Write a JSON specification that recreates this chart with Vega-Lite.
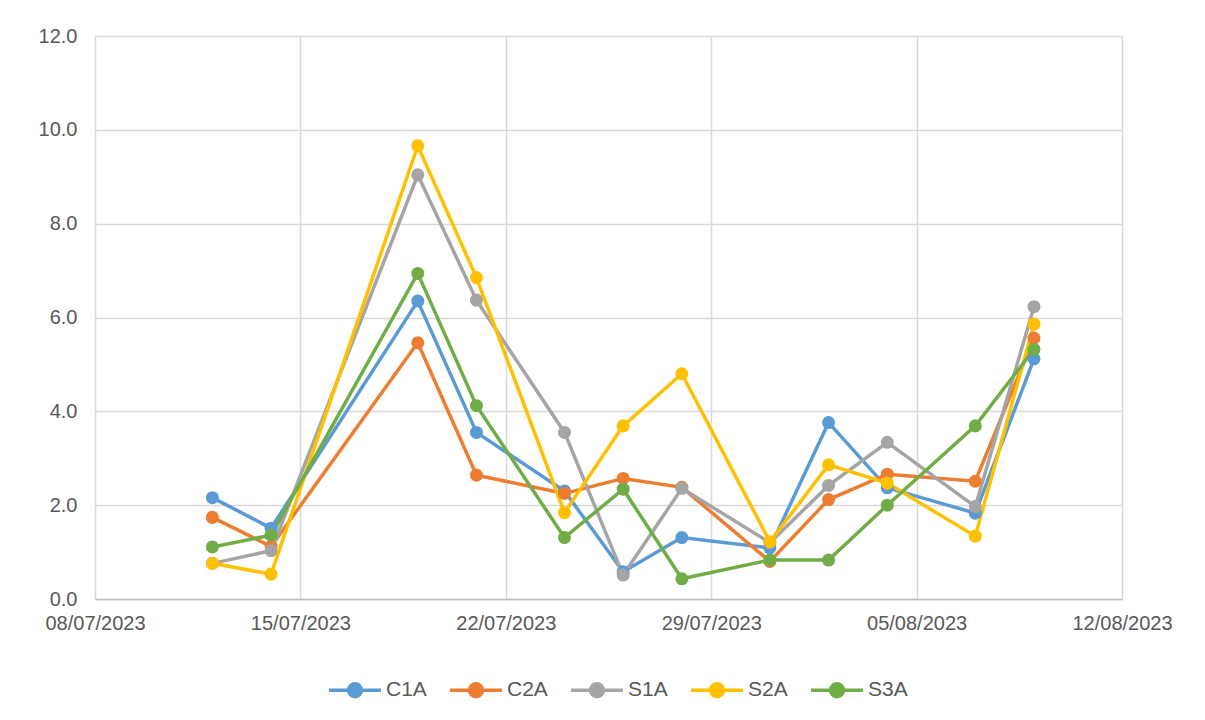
{
  "$schema": "https://vega.github.io/schema/vega-lite/v6.json",
  "width": 1027,
  "height": 563,
  "autosize": "none",
  "padding": {"left": 95, "top": 36, "right": 83, "bottom": 121},
  "background": "white",
  "config": {
    "font": "Liberation Sans",
    "view": {"stroke": null},
    "axis": {"labelFont": "Liberation Sans", "labelColor": "#595959", "labelFontSize": 20, "gridColor": "#D9D9D9", "gridWidth": 1.5, "ticks": false, "title": null}
  },
  "data": {"values": [
    {"date": "2023-07-12", "series": "C1A", "value": 2.16},
    {"date": "2023-07-14", "series": "C1A", "value": 1.51},
    {"date": "2023-07-19", "series": "C1A", "value": 6.35},
    {"date": "2023-07-21", "series": "C1A", "value": 3.55},
    {"date": "2023-07-24", "series": "C1A", "value": 2.30},
    {"date": "2023-07-26", "series": "C1A", "value": 0.58},
    {"date": "2023-07-28", "series": "C1A", "value": 1.31},
    {"date": "2023-07-31", "series": "C1A", "value": 1.09},
    {"date": "2023-08-02", "series": "C1A", "value": 3.76},
    {"date": "2023-08-04", "series": "C1A", "value": 2.37},
    {"date": "2023-08-07", "series": "C1A", "value": 1.83},
    {"date": "2023-08-09", "series": "C1A", "value": 5.12},
    {"date": "2023-07-12", "series": "C2A", "value": 1.74},
    {"date": "2023-07-14", "series": "C2A", "value": 1.12},
    {"date": "2023-07-19", "series": "C2A", "value": 5.46},
    {"date": "2023-07-21", "series": "C2A", "value": 2.64},
    {"date": "2023-07-24", "series": "C2A", "value": 2.25},
    {"date": "2023-07-26", "series": "C2A", "value": 2.57},
    {"date": "2023-07-28", "series": "C2A", "value": 2.38},
    {"date": "2023-07-31", "series": "C2A", "value": 0.80},
    {"date": "2023-08-02", "series": "C2A", "value": 2.12},
    {"date": "2023-08-04", "series": "C2A", "value": 2.66},
    {"date": "2023-08-07", "series": "C2A", "value": 2.51},
    {"date": "2023-08-09", "series": "C2A", "value": 5.56},
    {"date": "2023-07-12", "series": "S1A", "value": 0.76},
    {"date": "2023-07-14", "series": "S1A", "value": 1.03},
    {"date": "2023-07-19", "series": "S1A", "value": 9.04},
    {"date": "2023-07-21", "series": "S1A", "value": 6.37},
    {"date": "2023-07-24", "series": "S1A", "value": 3.55},
    {"date": "2023-07-26", "series": "S1A", "value": 0.51},
    {"date": "2023-07-28", "series": "S1A", "value": 2.36},
    {"date": "2023-07-31", "series": "S1A", "value": 1.20},
    {"date": "2023-08-02", "series": "S1A", "value": 2.42},
    {"date": "2023-08-04", "series": "S1A", "value": 3.34},
    {"date": "2023-08-07", "series": "S1A", "value": 1.97},
    {"date": "2023-08-09", "series": "S1A", "value": 6.23},
    {"date": "2023-07-12", "series": "S2A", "value": 0.76},
    {"date": "2023-07-14", "series": "S2A", "value": 0.53},
    {"date": "2023-07-19", "series": "S2A", "value": 9.66},
    {"date": "2023-07-21", "series": "S2A", "value": 6.85},
    {"date": "2023-07-24", "series": "S2A", "value": 1.84},
    {"date": "2023-07-26", "series": "S2A", "value": 3.69},
    {"date": "2023-07-28", "series": "S2A", "value": 4.80},
    {"date": "2023-07-31", "series": "S2A", "value": 1.22},
    {"date": "2023-08-02", "series": "S2A", "value": 2.86},
    {"date": "2023-08-04", "series": "S2A", "value": 2.47},
    {"date": "2023-08-07", "series": "S2A", "value": 1.34},
    {"date": "2023-08-09", "series": "S2A", "value": 5.86},
    {"date": "2023-07-12", "series": "S3A", "value": 1.11},
    {"date": "2023-07-14", "series": "S3A", "value": 1.36},
    {"date": "2023-07-19", "series": "S3A", "value": 6.94},
    {"date": "2023-07-21", "series": "S3A", "value": 4.12},
    {"date": "2023-07-24", "series": "S3A", "value": 1.31},
    {"date": "2023-07-26", "series": "S3A", "value": 2.34},
    {"date": "2023-07-28", "series": "S3A", "value": 0.43},
    {"date": "2023-07-31", "series": "S3A", "value": 0.83},
    {"date": "2023-08-02", "series": "S3A", "value": 0.83},
    {"date": "2023-08-04", "series": "S3A", "value": 2.00},
    {"date": "2023-08-07", "series": "S3A", "value": 3.69},
    {"date": "2023-08-09", "series": "S3A", "value": 5.32}
  ]},
  "encoding": {
    "x": {
      "field": "date", "type": "temporal",
      "scale": {"type": "utc", "domain": ["2023-07-08", "2023-08-12"]},
      "axis": {
        "format": "%d/%m/%Y",
        "values": ["2023-07-08", "2023-07-15", "2023-07-22", "2023-07-29", "2023-08-05", "2023-08-12"],
        "labelFlush": false,
        "labelPadding": 14,
        "domainColor": "#BFBFBF",
        "domainWidth": 1.5
      }
    },
    "y": {
      "field": "value", "type": "quantitative",
      "scale": {"domain": [0, 12], "nice": false},
      "axis": {"values": [0, 2, 4, 6, 8, 10, 12], "format": ".1f", "domain": false, "labelPadding": 18}
    },
    "color": {
      "field": "series", "type": "nominal",
      "scale": {"domain": ["C1A", "C2A", "S1A", "S2A", "S3A"], "range": ["#5B9BD5", "#ED7D31", "#A5A5A5", "#FFC000", "#70AD47"]},
      "legend": {
        "title": null,
        "orient": "none",
        "legendX": 232,
        "legendY": 626,
        "direction": "horizontal",
        "columns": 5,
        "labelFontSize": 21,
        "labelColor": "#595959",
        "symbolType": "M-1,0H1M0.25,0A0.25,0.25,0,1,1,-0.25,0A0.25,0.25,0,1,1,0.25,0Z",
        "symbolSize": 2704,
        "symbolStrokeWidth": 3.5,
        "columnPadding": 16,
        "labelOffset": 3,
        "encode": {"symbols": {"update": {"fill": {"scale": "color", "field": "value"}, "stroke": {"scale": "color", "field": "value"}}}}
      }
    }
  },
  "mark": {"type": "line", "strokeWidth": 3.5, "point": {"filled": true, "size": 170, "opacity": 1}}
}
